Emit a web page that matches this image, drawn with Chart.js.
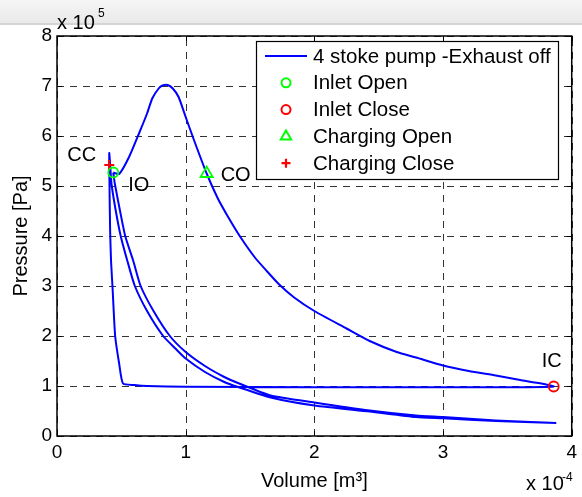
<!DOCTYPE html>
<html>
<head>
<meta charset="utf-8">
<script src="https://cdn.jsdelivr.net/npm/chart.js@4.4.0/dist/chart.umd.min.js"></script>
<style>
    html, body { margin: 0; padding: 0; background: #fff; }
    #wrap { position: relative; width: 582px; height: 497px; }
    #band { position: absolute; left: 0; top: 0; width: 582px; height: 23px;
            background: linear-gradient(#f6f6f6, #e9e9e9); border-bottom: 2px solid #d4d4d4; }
    #pv { position: absolute; left: 0; top: 0; }
</style>
</head>
<body>
<div id="wrap">
    <div id="band"></div>
    <canvas id="pv" width="582" height="497"></canvas>
</div>
<script>
// volume in 1e-4 m3, pressure in 1e5 Pa
const volume = [
    0.437, 0.483, 0.56, 0.637, 0.70, 0.74, 0.79, 0.82, 0.86, 0.90, 0.945, 1.00, 1.07, 1.163,
    1.25, 1.33, 1.42, 1.535, 1.63, 1.727, 1.843, 2.00, 2.25, 2.43, 2.64, 2.79, 3.00, 3.20, 3.41,
    3.60, 3.74, 3.86,
    3.50, 2.00, 1.00, 0.70, 0.60, 0.513,
    0.483, 0.452, 0.431, 0.420, 0.413, 0.408, 0.406,
    0.415, 0.423, 0.457, 0.495, 0.547, 0.605, 0.70, 0.825, 0.92, 1.00, 1.15, 1.30, 1.406, 1.66,
    2.00, 2.43, 2.79, 3.00, 3.41, 3.88,
    3.41, 3.00, 2.79, 2.43, 2.00, 1.66, 1.406, 1.30, 1.15, 1.00, 0.877, 0.75, 0.65, 0.593, 0.53,
    0.49, 0.449, 0.437
];
const pressure = [
    5.27, 5.24, 5.58, 6.05, 6.45, 6.75, 6.95, 7.01, 7.02, 6.95, 6.78, 6.38, 5.88, 5.25,
    4.75, 4.38, 4.00, 3.58, 3.30, 3.03, 2.77, 2.50, 2.15, 1.90, 1.68, 1.57, 1.41, 1.30, 1.21,
    1.12, 1.06, 0.99,
    0.975, 0.975, 0.985, 1.00, 1.02, 1.05,
    1.45, 2.00, 3.00, 3.50, 4.10, 5.00, 5.66,
    5.35, 5.05, 4.50, 4.00, 3.50, 3.00, 2.50, 2.00, 1.75, 1.55, 1.28, 1.08, 0.98, 0.77,
    0.61, 0.49, 0.38, 0.355, 0.30, 0.26,
    0.31, 0.38, 0.41, 0.51, 0.67, 0.81, 1.06, 1.18, 1.40, 1.68, 2.00, 2.50, 3.00, 3.50, 4.00,
    4.50, 5.05, 5.27
];

const markerNames = ['Inlet Open', 'Inlet Close', 'Charging Open', 'Charging Close'];
const markerVolume = [0.437, 3.86, 1.163, 0.406];
const markerPressure = [5.27, 0.99, 5.25, 5.42];
const markerShort = ['IO', 'IC', 'CO', 'CC'];

const xTicks = [0, 1, 2, 3, 4];
const yTicks = [0, 1, 2, 3, 4, 5, 6, 7, 8];

const FONT = 'Liberation Sans, Arial, Helvetica, sans-serif';

let pts = volume.map((v, i) => ({x: v, y: pressure[i]}));

let markerStyle = [
    {pointStyle: 'circle', color: '#00ff00', radius: 5},
    {pointStyle: 'circle', color: '#ff0000', radius: 5},
    {pointStyle: 'triangle', color: '#00ff00', radius: 7},
    {pointStyle: 'cross', color: '#ff0000', radius: 5}
];

let datasets = [{
    label: '4 stoke pump -Exhaust off',
    data: pts,
    showLine: true,
    borderColor: '#0000ff',
    borderWidth: 2,
    tension: 0.2,
    pointRadius: 0,
    fill: false,
    order: 10
}];
for (let i = 0; i < markerNames.length; i++) {
    datasets.push({
        label: markerNames[i],
        data: [{x: markerVolume[i], y: markerPressure[i]}],
        pointStyle: markerStyle[i].pointStyle,
        pointRadius: markerStyle[i].radius,
        pointBorderColor: markerStyle[i].color,
        pointBackgroundColor: 'rgba(0,0,0,0)',
        pointBorderWidth: i === 3 ? 2 : 1.8,
        borderColor: markerStyle[i].color,
        order: 1
    });
}

// dashed grid (the built-in dash option is ignored here)
const gridPlugin = {
    id: 'dashgrid',
    beforeDatasetsDraw(chart) {
        const ctx = chart.ctx;
        const a = chart.chartArea;
        const sx = chart.scales.x, sy = chart.scales.y;
        ctx.save();
        ctx.strokeStyle = '#333';
        ctx.lineWidth = 1;
        ctx.setLineDash([7, 6]);
        ctx.beginPath();
        xTicks.forEach(t => {
            const px = Math.round(sx.getPixelForValue(t)) + 0.5;
            ctx.moveTo(px, a.bottom); ctx.lineTo(px, a.top);
        });
        yTicks.forEach(t => {
            const py = Math.round(sy.getPixelForValue(t)) + 0.5;
            ctx.moveTo(a.left, py); ctx.lineTo(a.right, py);
        });
        ctx.stroke();
        ctx.restore();
    }
};

// frame + inward ticks, like matlab's box on
const boxPlugin = {
    id: 'box',
    afterDatasetsDraw(chart) {
        const ctx = chart.ctx;
        const a = chart.chartArea;
        const sx = chart.scales.x, sy = chart.scales.y;
        ctx.save();
        ctx.strokeStyle = '#000';
        ctx.lineWidth = 1.5;
        ctx.strokeRect(a.left, a.top, a.right - a.left, a.bottom - a.top);
        ctx.lineWidth = 1;
        ctx.beginPath();
        xTicks.forEach(t => {
            const px = Math.round(sx.getPixelForValue(t)) + 0.5;
            ctx.moveTo(px, a.bottom); ctx.lineTo(px, a.bottom - 5);
            ctx.moveTo(px, a.top); ctx.lineTo(px, a.top + 5);
        });
        yTicks.forEach(t => {
            const py = Math.round(sy.getPixelForValue(t)) + 0.5;
            ctx.moveTo(a.left, py); ctx.lineTo(a.left + 5, py);
            ctx.moveTo(a.right, py); ctx.lineTo(a.right - 5, py);
        });
        ctx.stroke();

        // exponent labels
        ctx.fillStyle = '#000';
        ctx.textBaseline = 'alphabetic';
        ctx.textAlign = 'left';
        ctx.font = '20px ' + FONT;
        ctx.fillText('x 10', a.left, a.top - 7);
        ctx.fillText('x 10', 526, 490);
        ctx.font = '12px ' + FONT;
        ctx.fillText('5', a.left + 41, a.top - 19);
        ctx.fillText('-4', 562, 481);

        // point labels next to the markers
        ctx.font = '20px ' + FONT;
        ctx.textBaseline = 'middle';
        const off = [[15, 13], [-12, -25], [14, 2], [-42, -10]];
        for (let i = 0; i < markerShort.length; i++) {
            const px = sx.getPixelForValue(markerVolume[i]);
            const py = sy.getPixelForValue(markerPressure[i]);
            ctx.fillText(markerShort[i], px + off[i][0], py + off[i][1]);
        }
        ctx.restore();
    },
    afterDraw(chart) {
        // legend box inside the axes, top right
        const ctx = chart.ctx;
        const L = 256, T = 41, R = 558, B = 179;
        ctx.save();
        ctx.fillStyle = '#fff';
        ctx.fillRect(L, T, R - L, B - T);
        ctx.strokeStyle = '#000';
        ctx.lineWidth = 1.2;
        ctx.strokeRect(L + 0.5, T + 0.5, R - L, B - T);
        ctx.font = '20.5px ' + FONT;
        ctx.textBaseline = 'middle';
        ctx.textAlign = 'left';
        chart.data.datasets.forEach((ds, i) => {
            const y = 56 + i * 26.8;
            if (i === 0) {
                ctx.strokeStyle = ds.borderColor;
                ctx.lineWidth = 2;
                ctx.beginPath();
                ctx.moveTo(265, y); ctx.lineTo(307, y);
                ctx.stroke();
            } else {
                ctx.strokeStyle = ds.pointBorderColor;
                ctx.fillStyle = 'rgba(0,0,0,0)';
                ctx.lineWidth = ds.pointBorderWidth + 0.2;
                let r = ds.pointStyle === 'triangle' ? 6 : 4.5;
                Chart.helpers.drawPoint(ctx, {pointStyle: ds.pointStyle, radius: r, borderWidth: ds.pointBorderWidth, rotation: 0}, 286, y);
            }
            ctx.fillStyle = '#000';
            ctx.fillText(ds.label, 313, y + 1);
        });
        ctx.restore();
    }
};

let chartPV = new Chart('pv', {
    type: 'scatter',
    data: {datasets: datasets},
    options: {
        responsive: false,
        animation: false,
        devicePixelRatio: 1,
        layout: {padding: {left: 0, top: 36, right: 0, bottom: 0}},
        plugins: {legend: {display: false}, tooltip: {enabled: false}},
        scales: {
            x: {
                type: 'linear',
                min: 0, max: 4,
                afterFit(scale) { scale.height = 61; },
                afterBuildTicks(scale) { scale.ticks = xTicks.map(v => ({value: v})); },
                ticks: {color: '#000', font: {family: FONT, size: 19}, padding: 5},
                grid: {display: false, drawTicks: false},
                border: {display: false},
                title: {display: true, text: 'Volume [m³]', color: '#000', font: {family: FONT, size: 20}, padding: {top: 0, bottom: 4}}
            },
            y: {
                type: 'linear',
                min: 0, max: 8,
                afterFit(scale) { scale.width = 57; },
                afterBuildTicks(scale) { scale.ticks = yTicks.map(v => ({value: v})); },
                ticks: {color: '#000', font: {family: FONT, size: 19}, padding: 5},
                grid: {display: false, drawTicks: false},
                border: {display: false},
                title: {display: true, text: 'Pressure [Pa]', color: '#000', font: {family: FONT, size: 20}, padding: {top: 9, bottom: 0}}
            }
        }
    },
    plugins: [gridPlugin, boxPlugin]
});
</script>
</body>
</html>
